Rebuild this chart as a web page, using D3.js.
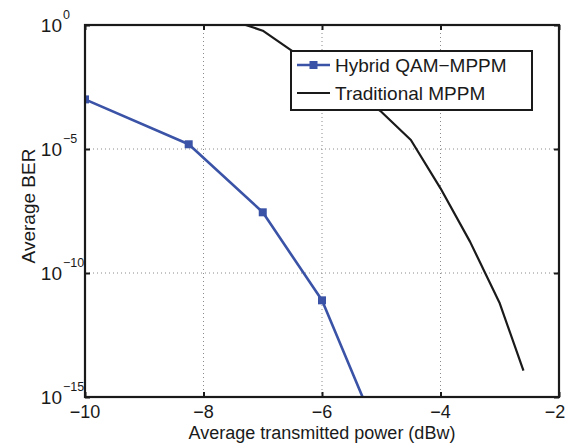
<!DOCTYPE html>
<html>
<head>
<meta charset="utf-8">
<script src="https://cdn.jsdelivr.net/npm/d3@7"></script>
<style>
  html, body { margin: 0; padding: 0; background: #fff; }
  svg { display: block; }
  text { font-family: "Liberation Sans", Arial, Helvetica, sans-serif; fill: #1a1a1a; }
</style>
</head>
<body>
<script>
// ---- data ----
const hybridPower = [-10, -8.25, -7, -6, -5];
const hybridBER   = [1e-3, 1.55e-5, 2.8e-8, 7.9e-12, 1.6e-17];

const tradPower = [-7.5, -7, -6.5, -6, -5.5, -5, -4.5, -4, -3.5, -3, -2.6];
const tradBER   = [1.48, 0.59, 0.089, 0.014, 2.2e-3, 3.2e-4, 2.3e-5, 2.6e-7, 1.8e-9, 6.0e-12, 1.15e-14];

const xTicks = [-10, -8, -6, -4, -2];
const xTickLabels = ["\u221210", "\u22128", "\u22126", "\u22124", "\u22122"];
const yTicks = [1, 1e-5, 1e-10, 1e-15];
const yTickExps = ["0", "\u22125", "\u221210", "\u221215"];

const seriesNames = ["Hybrid QAM\u2212MPPM", "Traditional MPPM"];
const xTitle = "Average transmitted power (dBw)";
const yTitle = "Average BER";

// ---- layout ----
const W = 567, H = 446;
const L = 85, R = 559, T = 25, B = 397;
const blue = "#3a53a6";
const ink = "#1a1a1a";

const svg = d3.select("body").append("svg").attr("width", W).attr("height", H);

const x = d3.scaleLinear().domain([-10, -2]).range([L, R]);
const y = d3.scaleLog().domain([1e-15, 1]).range([B, T]);

svg.append("defs").append("clipPath").attr("id", "plotclip")
  .append("rect").attr("x", L).attr("y", T).attr("width", R - L).attr("height", B - T);

// grid
const grid = svg.append("g").attr("stroke", "#8a8a8a").attr("stroke-width", 1).attr("stroke-dasharray", "1,3");
grid.selectAll("line.vx").data(xTicks.slice(1, -1)).enter().append("line")
  .attr("x1", d => x(d)).attr("x2", d => x(d)).attr("y1", T).attr("y2", B);
grid.selectAll("line.hy").data(yTicks.slice(1, -1)).enter().append("line")
  .attr("y1", d => y(d)).attr("y2", d => y(d)).attr("x1", L).attr("x2", R);

// axes via d3 axis generators (inner ticks, no labels)
const tl = 5;
function styleAxis(g) {
  g.select(".domain").remove();
  g.selectAll(".tick line").attr("stroke", ink).attr("stroke-width", 2);
  g.selectAll(".tick text").remove();
}
svg.append("g").attr("transform", `translate(0,${B})`)
  .call(d3.axisBottom(x).tickValues(xTicks).tickSize(-tl)).call(styleAxis);
svg.append("g").attr("transform", `translate(0,${T})`)
  .call(d3.axisTop(x).tickValues(xTicks).tickSize(-tl)).call(styleAxis);
svg.append("g").attr("transform", `translate(${L},0)`)
  .call(d3.axisLeft(y).tickValues(yTicks).tickSize(-tl)).call(styleAxis);
svg.append("g").attr("transform", `translate(${R},0)`)
  .call(d3.axisRight(y).tickValues(yTicks).tickSize(-tl)).call(styleAxis);

// lines
const plot = svg.append("g").attr("clip-path", "url(#plotclip)");
const line = d3.line().x(d => x(d[0])).y(d => y(d[1]));

const tradData = tradPower.map((p, i) => [p, tradBER[i]]);
const hybData = hybridPower.map((p, i) => [p, hybridBER[i]]);

plot.append("path").datum(tradData).attr("d", line)
  .attr("fill", "none").attr("stroke", ink).attr("stroke-width", 2.2).attr("stroke-linejoin", "round");
plot.append("path").datum(hybData).attr("d", line)
  .attr("fill", "none").attr("stroke", blue).attr("stroke-width", 2.6).attr("stroke-linejoin", "round");
const ms = 8;
plot.selectAll("rect.m").data(hybData).enter().append("rect")
  .attr("x", d => x(d[0]) - ms / 2).attr("y", d => y(d[1]) - ms / 2)
  .attr("width", ms).attr("height", ms).attr("fill", blue);

// box
svg.append("rect").attr("x", L).attr("y", T).attr("width", R - L).attr("height", B - T)
  .attr("fill", "none").attr("stroke", ink).attr("stroke-width", 2.2);

// tick labels
const fs = 19;
const xfs = 18;
svg.selectAll("text.xt").data(xTicks).enter().append("text")
  .attr("x", d => Math.min(x(d), W - 12)).attr("y", 418).attr("text-anchor", "middle")
  .attr("font-size", xfs).text((d, i) => xTickLabels[i]);

const yl = svg.append("g");
yl.selectAll("text.yb").data(yTicks).enter().append("text")
  .attr("x", 62).attr("y", d => y(d) + 7).attr("text-anchor", "end")
  .attr("font-size", fs).text("10");
yl.selectAll("text.ye").data(yTicks).enter().append("text")
  .attr("x", 63).attr("y", d => y(d) - 6).attr("text-anchor", "start")
  .attr("font-size", 12.5).text((d, i) => yTickExps[i]);

// titles
svg.append("text").attr("x", (L + R) / 2).attr("y", 439).attr("text-anchor", "middle")
  .attr("font-size", xfs).text(xTitle);
svg.append("text").attr("transform", `translate(35,${(T + B) / 2 - 5}) rotate(-90)`)
  .attr("text-anchor", "middle").attr("font-size", fs).text(yTitle);

// legend
const lg = svg.append("g");
lg.append("rect").attr("x", 291).attr("y", 51).attr("width", 241).attr("height", 59)
  .attr("fill", "#fff").attr("stroke", ink).attr("stroke-width", 2);
const rows = [
  { name: seriesNames[0], color: blue, marker: true, w: 2.6, yy: 65 },
  { name: seriesNames[1], color: ink, marker: false, w: 2.2, yy: 93 }
];
rows.forEach(r => {
  lg.append("line").attr("x1", 297).attr("x2", 330).attr("y1", r.yy).attr("y2", r.yy)
    .attr("stroke", r.color).attr("stroke-width", r.w);
  if (r.marker) lg.append("rect").attr("x", 313.5 - ms / 2).attr("y", r.yy - ms / 2)
    .attr("width", ms).attr("height", ms).attr("fill", r.color);
  lg.append("text").attr("x", 335).attr("y", r.yy + 7).attr("font-size", fs).text(r.name);
});
</script>
</body>
</html>
